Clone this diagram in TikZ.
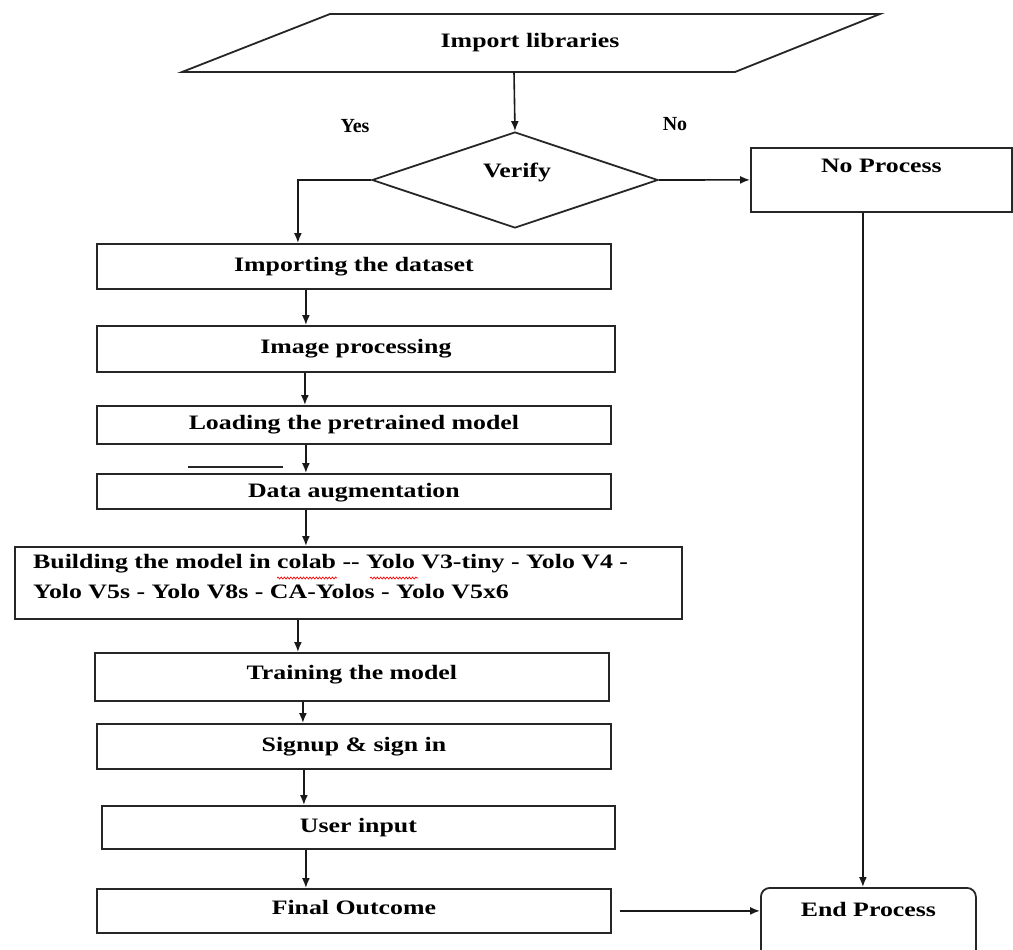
\documentclass[tikz,border=0pt]{standalone}
\usepackage{fontspec}
\setmainfont{Liberation Serif}
\usetikzlibrary{arrows.meta,shapes.geometric,decorations.pathmorphing}
% slightly widened bold lettering
\newcommand{\wide}[1]{\scalebox{1.26}[1]{#1}}
\newcommand{\flowfont}{\fontsize{20.5}{30}\selectfont\bfseries}

\tikzset{
  outline/.style={draw=black!85, line width=1.8pt},
  stepbox/.style={outline, inner sep=0pt, anchor=north west, font=\flowfont},
  lbl/.style={inner sep=0pt, font=\flowfont},
  yn/.style={inner sep=0pt, font=\fontsize{20}{24}\selectfont\bfseries},
  arr/.style={draw=black!90, line width=1.6pt, -{Latex[length=10pt,width=8pt]}},
  spellwave/.style={draw=red, line width=0.7pt, decorate,
    decoration={snake, amplitude=1pt, segment length=3.2pt}},
}

\begin{document}
\begin{tikzpicture}[x=1pt,y=-1pt]
\clip (0,0) rectangle (1013,950);
\fill[white] (0,0) rectangle (1013,950);

% input parallelogram
\coordinate (p1) at (182,72);
\coordinate (p2) at (330,14);
\coordinate (p3) at (880,14);
\coordinate (p4) at (735,72);
\draw[outline] (p1) -- (p2) -- (p3) -- (p4) -- cycle;
\node[lbl, anchor=base] (imp) at (530,48) {\wide{Import libraries}};
\coordinate (pb) at (514,72);

% decision
\node[diamond, outline, minimum width=286pt, minimum height=96pt, inner sep=0pt] (dec) at (515,180) {};
\node[lbl, anchor=base] (ver) at (517,177) {\wide{Verify}};
\node[yn, anchor=base] (yes) at (355,132) {Yes};
\node[yn, anchor=base] (no) at (675,130) {No};

% right branch
\node[stepbox, minimum width=261pt, text height=25pt, text depth=39pt] (np) at (750,147) {\wide{No Process}};
\node[stepbox, rounded corners=9pt, minimum width=215pt, text height=29pt, text depth=45pt] (endp) at (760,887) {\wide{End Process}};

% main column
\node[stepbox, minimum width=514pt, text height=28pt, text depth=17pt] (b1) at (96,243) {\wide{Importing the dataset}};
\node[stepbox, minimum width=518pt, text height=28pt, text depth=18pt] (b2) at (96,325) {\wide{Image processing}};
\node[stepbox, minimum width=514pt, text height=24pt, text depth=14pt] (b3) at (96,405) {\wide{Loading the pretrained model}};
\node[stepbox, minimum width=514pt, text height=24pt, text depth=11pt] (b4) at (96,473) {\wide{Data augmentation}};
\node[stepbox, minimum width=667pt, minimum height=72pt] (b5) at (14,546) {};
\node[lbl, anchor=base west] (b5a) at (33,568) {\wide{Building the model in colab -{}- Yolo V3-tiny - Yolo V4 -}};
\node[lbl, anchor=base west] (b5b) at (33,598) {\wide{Yolo V5s - Yolo V8s - CA-Yolos - Yolo V5x6}};
\node[stepbox, minimum width=514pt, text height=27pt, text depth=21pt] (b6) at (94,652) {\wide{Training the model}};
\node[stepbox, minimum width=514pt, text height=28pt, text depth=17pt] (b7) at (96,723) {\wide{Signup \& sign in}};
\node[stepbox, minimum width=513pt, text height=27pt, text depth=16pt] (b8) at (101,805) {\wide{User input}};
\node[stepbox, minimum width=514pt, text height=26pt, text depth=18pt] (b9) at (96,888) {\wide{Final Outcome}};

% spell-check marks under two words of the model list
\coordinate (w1a) at (277,578);
\coordinate (w1b) at (337,578);
\coordinate (w2a) at (370,578);
\coordinate (w2b) at (418,578);
\draw[spellwave] (w1a) -- (w1b);
\draw[spellwave] (w2a) -- (w2b);

% short stray rule above the data augmentation step
\coordinate (s1) at (188,467);
\coordinate (s2) at (283,467);
\draw[outline, line width=1.5pt] (s1) -- (s2);

% connectors
\draw[arr] (pb) -- (dec.north);
\draw[arr] (dec.west) -| ([xshift=-56pt]b1.north);
\draw[arr] (dec.east) -- (np.west);
\draw[arr] ([xshift=-18.5pt]np.south) -- ([xshift=-18.5pt]np.south |- endp.north);
\draw[arr] ([xshift=-48pt]b1.south) -- ([xshift=-48pt]b1.south |- b2.north);
\draw[arr] ([xshift=-51pt]b2.south) -- ([xshift=-51pt]b2.south |- b3.north);
\draw[arr] ([xshift=-48pt]b3.south) -- ([xshift=-48pt]b3.south |- b4.north);
\draw[arr] ([xshift=-48pt]b4.south) -- ([xshift=-48pt]b4.south |- b5.north);
\draw[arr] ([xshift=-50.5pt]b5.south) -- ([xshift=-50.5pt]b5.south |- b6.north);
\draw[arr] ([xshift=-49pt]b6.south) -- ([xshift=-49pt]b6.south |- b7.north);
\draw[arr] ([xshift=-50pt]b7.south) -- ([xshift=-50pt]b7.south |- b8.north);
\draw[arr] ([xshift=-52.5pt]b8.south) -- ([xshift=-52.5pt]b8.south |- b9.north);
\draw[arr] ([xshift=8pt]b9.east) -- (b9.east -| endp.west);
\end{tikzpicture}
\end{document}
